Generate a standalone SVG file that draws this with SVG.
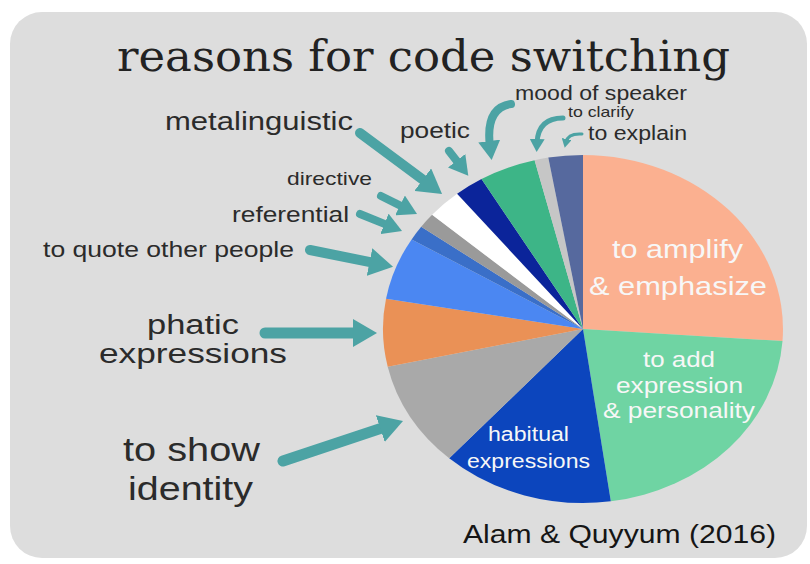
<svg xmlns="http://www.w3.org/2000/svg" width="810" height="564" viewBox="0 0 810 564">
  <style>
    .lbl { font-family: "Liberation Sans", Arial, sans-serif; fill: #2b2b2b; }
    .in { font-family: "Liberation Sans", Arial, sans-serif; fill: #f7f7f7; }
    .title { font-family: "DejaVu Serif", "Liberation Serif", serif; fill: #222222; }
    .arrow { fill: none; stroke: #4ca3a4; stroke-linecap: round; }
  </style>
  <defs>
    <marker id="ah-lg" viewBox="0 0 24 28" markerWidth="24" markerHeight="28" refX="7" refY="14" orient="auto" markerUnits="userSpaceOnUse">
      <path d="M0,0 L24,14 L0,28 Z" fill="#4ca3a4"/>
    </marker>
    <marker id="ah-md" viewBox="0 0 19 22" markerWidth="19" markerHeight="22" refX="6" refY="11" orient="auto" markerUnits="userSpaceOnUse">
      <path d="M0,0 L19,11 L0,22 Z" fill="#4ca3a4"/>
    </marker>
    <marker id="ah-sm" viewBox="0 0 13 15" markerWidth="13" markerHeight="15" refX="4" refY="7.5" orient="auto" markerUnits="userSpaceOnUse">
      <path d="M0,0 L13,7.5 L0,15 Z" fill="#4ca3a4"/>
    </marker>
    <marker id="ah-xs" viewBox="0 0 9 10" markerWidth="9" markerHeight="10" refX="3" refY="5" orient="auto" markerUnits="userSpaceOnUse">
      <path d="M0,0 L9,5 L0,10 Z" fill="#4ca3a4"/>
    </marker>
  </defs>

  <!-- page and card -->
  <rect x="0" y="0" width="810" height="564" fill="#ffffff"/>
  <rect x="10" y="12" width="797" height="546" rx="32" ry="32" fill="#dddddd"/>

  <g id="title">
    <text class="title" x="117" y="71" font-size="42" textLength="613" lengthAdjust="spacingAndGlyphs">reasons for code switching</text>
  </g>

  <!-- pie: centre (583,329), radii 200 x 174 -->
  <g id="pie">
    <g id="reason-amplify">
      <path d="M583,329 L583,155 A200,174 0 0 1 782.5,341.1 Z" fill="#fbb090"/>
      <text class="in" x="612" y="258" font-size="26" textLength="131" lengthAdjust="spacingAndGlyphs">to amplify</text>
      <text class="in" x="589" y="295" font-size="26" textLength="178" lengthAdjust="spacingAndGlyphs">&amp; emphasize</text>
    </g>
    <g id="reason-personality">
      <path d="M583,329 L782.5,341.1 A200,174 0 0 1 610.8,501.3 Z" fill="#6fd4a3"/>
      <text class="in" x="643" y="367" font-size="22" textLength="72" lengthAdjust="spacingAndGlyphs">to add</text>
      <text class="in" x="616" y="393" font-size="22" textLength="127" lengthAdjust="spacingAndGlyphs">expression</text>
      <text class="in" x="603" y="418" font-size="22" textLength="152" lengthAdjust="spacingAndGlyphs">&amp; personality</text>
    </g>
    <g id="reason-habitual">
      <path d="M583,329 L610.8,501.3 A200,174 0 0 1 449.2,458.3 Z" fill="#0c45bd"/>
      <text class="in" x="488" y="441" font-size="20" textLength="81" lengthAdjust="spacingAndGlyphs">habitual</text>
      <text class="in" x="467" y="468" font-size="20" textLength="123" lengthAdjust="spacingAndGlyphs">expressions</text>
    </g>
    <g id="reason-identity">
      <path d="M583,329 L449.2,458.3 A200,174 0 0 1 387.7,366.7 Z" fill="#a9a9a9"/>
      <text class="lbl" x="123" y="461" font-size="33" textLength="137" lengthAdjust="spacingAndGlyphs">to show</text>
      <text class="lbl" x="128" y="500" font-size="33" textLength="125" lengthAdjust="spacingAndGlyphs">identity</text>
    </g>
    <g id="reason-phatic">
      <path d="M583,329 L387.7,366.7 A200,174 0 0 1 386,298.8 Z" fill="#ea9156"/>
      <text class="lbl" x="147" y="334" font-size="27" textLength="92" lengthAdjust="spacingAndGlyphs">phatic</text>
      <text class="lbl" x="99" y="363" font-size="27" textLength="188" lengthAdjust="spacingAndGlyphs">expressions</text>
    </g>
    <g id="reason-quote">
      <path d="M583,329 L386,298.8 A200,174 0 0 1 411.6,239.4 Z" fill="#4b87f2"/>
      <text class="lbl" x="43" y="257" font-size="22" textLength="251" lengthAdjust="spacingAndGlyphs">to quote other people</text>
    </g>
    <g id="reason-referential">
      <path d="M583,329 L411.6,239.4 A200,174 0 0 1 421.2,226.7 Z" fill="#3a6fc8"/>
      <text class="lbl" x="232" y="222" font-size="22" textLength="117" lengthAdjust="spacingAndGlyphs">referential</text>
    </g>
    <g id="reason-directive">
      <path d="M583,329 L421.2,226.7 A200,174 0 0 1 432.1,214.8 Z" fill="#9a9a9a"/>
      <text class="lbl" x="287" y="185" font-size="19" textLength="85" lengthAdjust="spacingAndGlyphs">directive</text>
    </g>
    <g id="reason-metalinguistic">
      <path d="M583,329 L432.1,214.8 A200,174 0 0 1 457.1,193.8 Z" fill="#ffffff"/>
      <text class="lbl" x="165" y="130" font-size="25" textLength="188" lengthAdjust="spacingAndGlyphs">metalinguistic</text>
    </g>
    <g id="reason-poetic">
      <path d="M583,329 L457.1,193.8 A200,174 0 0 1 481.5,179.1 Z" fill="#0b249a"/>
      <text class="lbl" x="400" y="138" font-size="22" textLength="70" lengthAdjust="spacingAndGlyphs">poetic</text>
    </g>
    <g id="reason-mood">
      <path d="M583,329 L481.5,179.1 A200,174 0 0 1 534.6,160.2 Z" fill="#3db587"/>
      <text class="lbl" x="515" y="100" font-size="20" textLength="172" lengthAdjust="spacingAndGlyphs">mood of speaker</text>
    </g>
    <g id="reason-clarify">
      <path d="M583,329 L534.6,160.2 A200,174 0 0 1 548.3,157.6 Z" fill="#c6c6c6"/>
      <text class="lbl" x="568" y="117" font-size="15" textLength="66" lengthAdjust="spacingAndGlyphs">to clarify</text>
    </g>
    <g id="reason-explain">
      <path d="M583,329 L548.3,157.6 A200,174 0 0 1 583,155 Z" fill="#56699e"/>
      <text class="lbl" x="588" y="140" font-size="20" textLength="99" lengthAdjust="spacingAndGlyphs">to explain</text>
    </g>
  </g>

  <g id="connectors">
    <path class="arrow" stroke-width="11" marker-end="url(#ah-lg)" d="M283,461 L386.9,426.4"/>
    <path class="arrow" stroke-width="11" marker-end="url(#ah-lg)" d="M265,333 L360,333"/>
    <path class="arrow" stroke-width="10" marker-end="url(#ah-lg)" d="M310,250 L376.4,263.4"/>
    <path class="arrow" stroke-width="8" marker-end="url(#ah-md)" d="M360,214 L390,226.1"/>
    <path class="arrow" stroke-width="8" marker-end="url(#ah-md)" d="M381,196 L405.4,208.1"/>
    <path class="arrow" stroke-width="10" marker-end="url(#ah-lg)" d="M360,133 L428.4,183.8"/>
    <path class="arrow" stroke-width="8" marker-end="url(#ah-md)" d="M449,151 L460.3,165.5"/>
    <path class="arrow" stroke-width="8" marker-end="url(#ah-md)" d="M511,104 Q485,108 490,147"/>
    <path class="arrow" stroke-width="5" marker-end="url(#ah-sm)" d="M563,118 Q538,118 537,143"/>
    <path class="arrow" stroke-width="3" marker-end="url(#ah-xs)" d="M582,134 Q568,133 566,142"/>
  </g>

  <g id="source">
    <text x="463" y="543" font-size="26" textLength="313" lengthAdjust="spacingAndGlyphs" style="font-family: 'Liberation Sans', Arial, sans-serif; fill: #151515;">Alam &amp; Quyyum (2016)</text>
  </g>
</svg>
